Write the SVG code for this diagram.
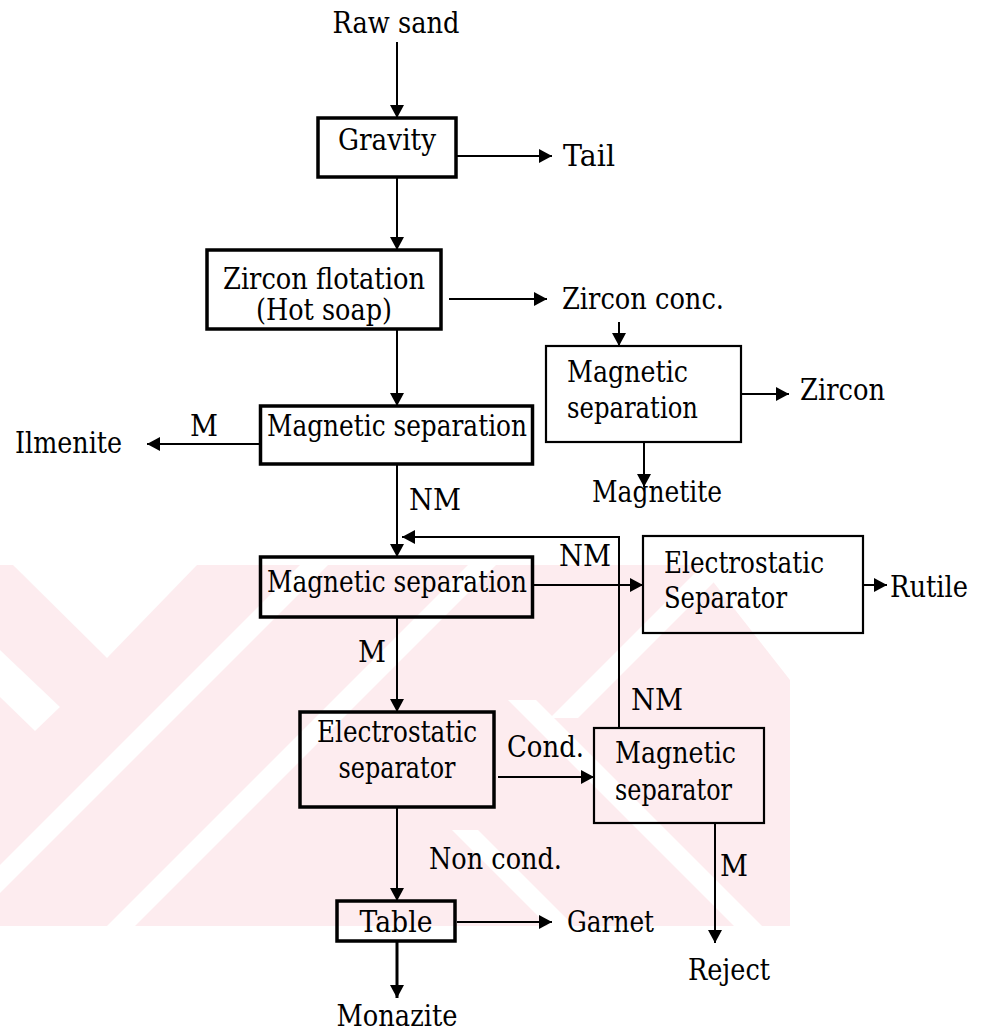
<svg xmlns="http://www.w3.org/2000/svg" width="989" height="1034" viewBox="0 0 989 1034">
  <defs>
    <style>
      .lbl { font-family: "DejaVu Serif", "Liberation Serif", "Times New Roman", serif; font-size: 29px; fill: #000; }
      .mid { text-anchor: middle; }
      .box { fill: none; stroke: #000; stroke-width: 3.5; }
      .box-thin { fill: none; stroke: #000; stroke-width: 2.2; }
      .flow { fill: none; stroke: #000; stroke-width: 2; marker-end: url(#arrow); }
      .flow-bold { fill: none; stroke: #000; stroke-width: 3; marker-end: url(#arrow); }
      .wm { fill: #fdecef; }
      .wm-gap { fill: #ffffff; }
    </style>
    <marker id="arrow" markerUnits="userSpaceOnUse" markerWidth="14" markerHeight="14" refX="13" refY="7" orient="auto">
      <path d="M0,0 L13,7 L0,14 z" fill="#000"/>
    </marker>
    <clipPath id="wmClip">
      <rect x="0" y="565" width="989" height="361"/>
    </clipPath>
  </defs>

  <rect x="0" y="0" width="989" height="1034" fill="#ffffff"/>

  <!-- faint background emblem behind the lower half -->
  <g id="watermark" clip-path="url(#wmClip)">
    <polygon class="wm" points="0,565 700,565 790,680 790,926 0,926"/>
    <polygon class="wm-gap" points="13,565 107,658 197,565"/>
    <polygon class="wm-gap" points="0,650 60,707 35,731 0,697"/>
    <polygon class="wm-gap" points="0,865 0,893 328,565 300,565"/>
    <polygon class="wm-gap" points="468,565 496,565 135,926 107,926"/>
    <polygon class="wm-gap" points="703,565 731,565 578,718 550,718"/>
    <polygon class="wm-gap" points="452,830 478,830 574,926 548,926"/>
    <polygon class="wm-gap" points="508,700 536,700 762,926 734,926"/>
  </g>

  <!-- connectors -->
  <g id="connectors">
    <path class="flow" d="M397,42 V118"/>
    <path class="flow" d="M456,156 H552"/>
    <path class="flow" d="M397,177 V250"/>
    <path class="flow" d="M449,299 H547"/>
    <path class="flow" d="M619,322 V346"/>
    <path class="flow" d="M741,394 H789"/>
    <path class="flow" d="M644,442 V487"/>
    <path class="flow" d="M397,329 V406"/>
    <path class="flow" d="M260,444 H147"/>
    <path class="flow" d="M397,464 V557"/>
    <path class="flow" d="M532,585 H643"/>
    <path class="flow" d="M863,585 H887"/>
    <path class="flow" d="M397,617 V712"/>
    <path class="flow" d="M498,777 H594"/>
    <path class="flow" d="M619,728 V537 H402"/>
    <path class="flow" d="M397,807 V901"/>
    <path class="flow" d="M457,922 H552"/>
    <path class="flow-bold" d="M397,941 V998"/>
    <path class="flow" d="M715,823 V943"/>
  </g>

  <!-- process units -->
  <g id="gravity">
    <rect class="box" x="318" y="118" width="138" height="59"/>
    <text class="lbl mid" x="387" y="150" textLength="98" lengthAdjust="spacingAndGlyphs">Gravity</text>
  </g>
  <g id="zircon-flotation">
    <rect class="box" x="207" y="250" width="234" height="79"/>
    <text class="lbl mid" x="324" y="289" textLength="202" lengthAdjust="spacingAndGlyphs">Zircon flotation</text>
    <text class="lbl mid" x="324" y="320" textLength="136" lengthAdjust="spacingAndGlyphs">(Hot soap)</text>
  </g>
  <g id="zircon-magnetic">
    <rect class="box-thin" x="546" y="346" width="195" height="96"/>
    <text class="lbl" x="567" y="382" textLength="121" lengthAdjust="spacingAndGlyphs">Magnetic</text>
    <text class="lbl" x="567" y="418" textLength="131" lengthAdjust="spacingAndGlyphs">separation</text>
  </g>
  <g id="magnetic-1">
    <rect class="box" x="260.5" y="406" width="272" height="58"/>
    <text class="lbl mid" x="397" y="436" textLength="260" lengthAdjust="spacingAndGlyphs">Magnetic separation</text>
  </g>
  <g id="magnetic-2">
    <rect class="box" x="260.5" y="557" width="272" height="60"/>
    <text class="lbl mid" x="397" y="592" textLength="260" lengthAdjust="spacingAndGlyphs">Magnetic separation</text>
  </g>
  <g id="rutile-electrostatic">
    <rect class="box-thin" x="643" y="536" width="220" height="97"/>
    <text class="lbl" x="664" y="573" textLength="160" lengthAdjust="spacingAndGlyphs">Electrostatic</text>
    <text class="lbl" x="664" y="608" textLength="123" lengthAdjust="spacingAndGlyphs">Separator</text>
  </g>
  <g id="electrostatic">
    <rect class="box" x="300" y="712" width="194" height="95"/>
    <text class="lbl mid" x="397" y="742" textLength="160" lengthAdjust="spacingAndGlyphs">Electrostatic</text>
    <text class="lbl mid" x="397" y="778" textLength="117" lengthAdjust="spacingAndGlyphs">separator</text>
  </g>
  <g id="magnetic-separator">
    <rect class="box-thin" x="594" y="728" width="170" height="95"/>
    <text class="lbl" x="615" y="763" textLength="121" lengthAdjust="spacingAndGlyphs">Magnetic</text>
    <text class="lbl" x="615" y="800" textLength="117" lengthAdjust="spacingAndGlyphs">separator</text>
  </g>
  <g id="table">
    <rect class="box" x="337" y="901" width="118" height="40"/>
    <text class="lbl mid" x="396" y="932" textLength="73" lengthAdjust="spacingAndGlyphs">Table</text>
  </g>

  <!-- feeds, products and stream labels -->
  <g id="streams">
    <text class="lbl mid" x="396" y="33" textLength="127" lengthAdjust="spacingAndGlyphs">Raw sand</text>
    <text class="lbl" x="563" y="166" textLength="52" lengthAdjust="spacingAndGlyphs">Tail</text>
    <text class="lbl" x="562" y="309" textLength="162" lengthAdjust="spacingAndGlyphs">Zircon conc.</text>
    <text class="lbl" x="800" y="400" textLength="85" lengthAdjust="spacingAndGlyphs">Zircon</text>
    <text class="lbl" x="592" y="502" textLength="130" lengthAdjust="spacingAndGlyphs">Magnetite</text>
    <text class="lbl" x="15" y="453" textLength="107" lengthAdjust="spacingAndGlyphs">Ilmenite</text>
    <text class="lbl" x="190" y="436" textLength="28" lengthAdjust="spacingAndGlyphs">M</text>
    <text class="lbl" x="409" y="510" textLength="52" lengthAdjust="spacingAndGlyphs">NM</text>
    <text class="lbl" x="559" y="566" textLength="52" lengthAdjust="spacingAndGlyphs">NM</text>
    <text class="lbl" x="890" y="597" textLength="78" lengthAdjust="spacingAndGlyphs">Rutile</text>
    <text class="lbl" x="358" y="662" textLength="28" lengthAdjust="spacingAndGlyphs">M</text>
    <text class="lbl" x="631" y="710" textLength="52" lengthAdjust="spacingAndGlyphs">NM</text>
    <text class="lbl" x="507" y="757" textLength="77" lengthAdjust="spacingAndGlyphs">Cond.</text>
    <text class="lbl" x="429" y="869" textLength="133" lengthAdjust="spacingAndGlyphs">Non cond.</text>
    <text class="lbl" x="720" y="876" textLength="28" lengthAdjust="spacingAndGlyphs">M</text>
    <text class="lbl" x="567" y="932" textLength="87" lengthAdjust="spacingAndGlyphs">Garnet</text>
    <text class="lbl mid" x="397" y="1026" textLength="121" lengthAdjust="spacingAndGlyphs">Monazite</text>
    <text class="lbl" x="688" y="980" textLength="82" lengthAdjust="spacingAndGlyphs">Reject</text>
  </g>
</svg>
